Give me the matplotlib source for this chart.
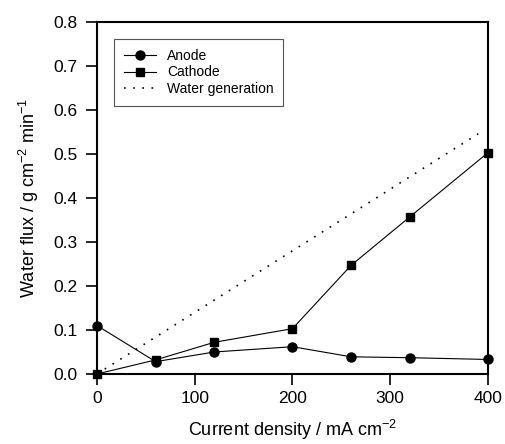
import matplotlib
matplotlib.use("Agg")
import matplotlib.pyplot as plt

plt.rcParams['font.family'] = ['Liberation Sans', 'DejaVu Sans']
plt.rcParams['mathtext.default'] = 'regular'

current = [0, 60, 120, 200, 260, 320, 400]
anode = [0.110, 0.028, 0.050, 0.062, 0.039, 0.037, 0.033]
cathode = [0.000, 0.032, 0.072, 0.103, 0.247, 0.357, 0.503]
gen_x = [0, 390]
gen_y = [0.0, 0.546]

xticks = [0, 100, 200, 300, 400]
yticks = [0.0, 0.1, 0.2, 0.3, 0.4, 0.5, 0.6, 0.7, 0.8]

fig = plt.figure(figsize=(5.06, 4.44), dpi=100)
ax = fig.add_axes([0.1917, 0.1577, 0.9644 - 0.1917, 0.9505 - 0.1577])

ax.plot(current, anode, '-', color='black', lw=0.8, marker='o', ms=6.5,
        clip_on=False, zorder=3, label='Anode')
ax.plot(current, cathode, '-', color='black', lw=0.8, marker='s', ms=6,
        clip_on=False, zorder=3, label='Cathode')
ax.plot(gen_x, gen_y, color='black', lw=1.2, linestyle=(0, (1, 4.5)),
        dash_capstyle='butt', label='Water generation')

ax.set_xlim(0, 400)
ax.set_ylim(0, 0.8)
ax.set_xticks(xticks)
ax.set_yticks(yticks)
ax.set_yticklabels([f"{v:.1f}" for v in yticks])
ax.tick_params(direction='out', length=8, width=1.2, labelsize=12.5, pad=4)
ax.tick_params(axis='y', pad=6)
for s in ax.spines.values():
    s.set_linewidth(1.5)

ax.set_xlabel('Current density / mA cm$^{-2}$', fontsize=13, labelpad=9)
ax.set_ylabel('Water flux / g cm$^{-2}$ min$^{-1}$', fontsize=13, labelpad=9)

leg = ax.legend(loc='upper left', bbox_to_anchor=(0.044, 0.952), borderaxespad=0,
                fontsize=10, fancybox=False, framealpha=1, edgecolor='#555555',
                handlelength=2.3, labelspacing=0.2, handletextpad=0.8,
                borderpad=0.7)
leg.get_frame().set_linewidth(0.8)

fig.savefig('out.png', dpi=100)
